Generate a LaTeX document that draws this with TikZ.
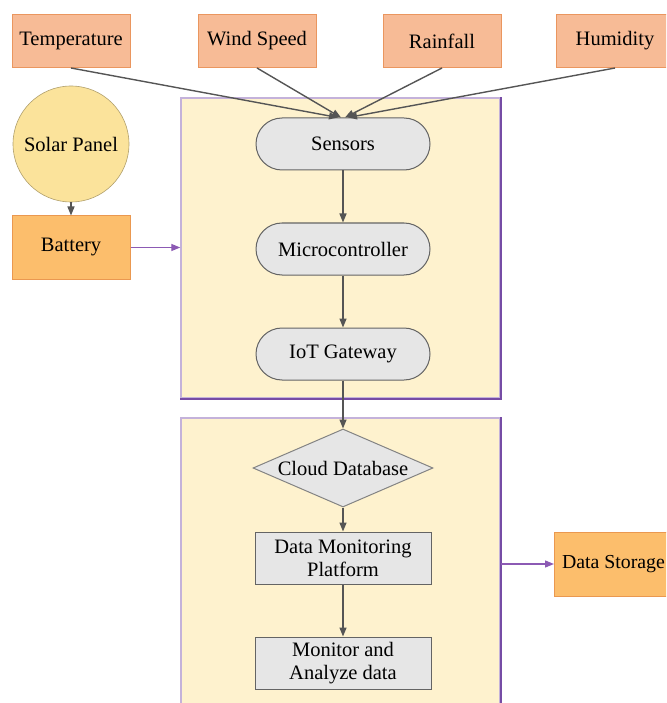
\documentclass[tikz,border=0pt]{standalone}
\usepackage{fontspec}
\setmainfont{Liberation Serif}
\usepackage{tikz}
\definecolor{peach}{RGB}{247,187,150}
\definecolor{peachline}{RGB}{234,150,95}
\definecolor{brightorange}{RGB}{252,190,108}
\definecolor{orangeline}{RGB}{234,152,80}
\definecolor{paleyellow}{RGB}{251,227,155}
\definecolor{creampanel}{RGB}{254,242,206}
\definecolor{panellight}{RGB}{196,178,218}
\definecolor{paneldark}{RGB}{118,76,165}
\definecolor{lightgrey}{RGB}{230,230,230}
\definecolor{edgegrey}{RGB}{100,100,100}
\definecolor{arrowgrey}{RGB}{85,85,85}
\definecolor{arrowpurple}{RGB}{140,90,180}
\usetikzlibrary{shapes.geometric,positioning,arrows.meta}

\tikzset{
	inputbox/.style={
		draw=peachline,       % orange border
		line width=1pt,
		fill=peach,           % soft peach fill
		rectangle,
		minimum width=118pt,
		minimum height=53pt
	},
	powerbox/.style={
		draw=orangeline,
		line width=1pt,
		fill=brightorange,    % stronger orange fill
		rectangle,
		minimum width=118pt,
		minimum height=63pt
	},
	panel/.style={
		draw=panellight,
		line width=1.4pt,
		fill=creampanel,      % cream background
		rectangle,
		minimum width=319pt
	},
	capsule/.style={
		draw=edgegrey,
		line width=1pt,
		fill=lightgrey,
		rectangle,
		rounded corners=26pt, % half the height
		minimum width=174pt,
		minimum height=52pt
	},
	platebox/.style={
		draw=edgegrey,
		line width=1pt,
		fill=lightgrey,
		rectangle,
		align=center,
		minimum width=176pt,
		minimum height=52pt
	},
	flow/.style={-{Triangle[length=9pt,width=7pt]}, draw=arrowgrey, line width=1.4pt},
	powerflow/.style={-{Triangle[length=9pt,width=7pt]}, draw=arrowpurple, line width=1.3pt}
}

\begin{document}
\begin{tikzpicture}[x=1pt,y=-1pt,font=\fontsize{20.5}{23}\selectfont,node distance=52pt]
	\useasboundingbox (0,0) rectangle (666,703);
	\clip (0,0) rectangle (666,703);

	% panels behind the chain
	\node[panel, minimum height=300pt] (panelA) at (340.5,248) {};
	\node[panel, minimum height=302pt] (panelB) at (340.5,569) {};
	\draw[paneldark, line width=1.6pt] (panelA.north east) -- (panelA.south east) -- (panelA.south west);
	\draw[paneldark, line width=1.6pt] (panelB.north east) -- (panelB.south east);

	% measured quantities
	\node[inputbox] (temp) at (71,41) {Temperature};
	\node[inputbox] (wind) at (257,41) {Wind Speed};
	\node[inputbox] (rain) at (442,41) {Rainfall};
	\node[inputbox] (humid) at (615,41) {Humidity};

	% power supply
	\node[
	draw=paleyellow!70!black, % thin darker rim
	line width=0.6pt,
	fill=paleyellow,
	circle,
	minimum size=116pt,
	inner sep=0pt
	] (solar) at (71,144) {Solar Panel};
	\node[powerbox] (battery) at (71,247.5) {Battery};

	% acquisition chain
	\node[capsule] (sensors) at (343,144) {Sensors};
	\node[capsule, below=of sensors] (mcu) {Microcontroller};
	\node[capsule, below=of mcu] (gateway) {IoT Gateway};

	% cloud side
	\node[
	draw=edgegrey!80,
	line width=1pt,
	fill=lightgrey,
	diamond,
	aspect=2.3,
	inner sep=0pt,
	minimum width=180pt,
	minimum height=78pt
	] (cloud) at (343,468) {Cloud Database};
	\node[platebox] (platform) at (343,558) {Data Monitoring\\Platform};
	\node[platebox, below=of platform] (analyze) {Monitor and\\Analyze data};
	\node[powerbox, minimum height=64pt, font=\fontsize{19.8}{23}\selectfont] (storage) at (613.5,564) {Data Storage};

	% connectors
	\draw[flow] (temp.south) -- ([xshift=-5pt]sensors.north);
	\draw[flow] (wind.south) -- ([xshift=-2pt]sensors.north);
	\draw[flow] (rain.south) -- ([xshift=2pt]sensors.north);
	\draw[flow] (humid.south) -- ([xshift=5pt]sensors.north);
	\draw[flow] (solar.south) -- (battery.north);
	\draw[flow] (sensors) -- (mcu);
	\draw[flow] (mcu) -- (gateway);
	\draw[flow] (gateway.south) -- (cloud.north);
	\draw[flow] (cloud.south) -- (platform.north);
	\draw[flow] (platform) -- (analyze);
	\draw[powerflow] (battery.east) -- (battery.east -| panelA.west);
	\draw[powerflow] (panelB.east |- storage.west) -- (storage.west);
\end{tikzpicture}
\end{document}
